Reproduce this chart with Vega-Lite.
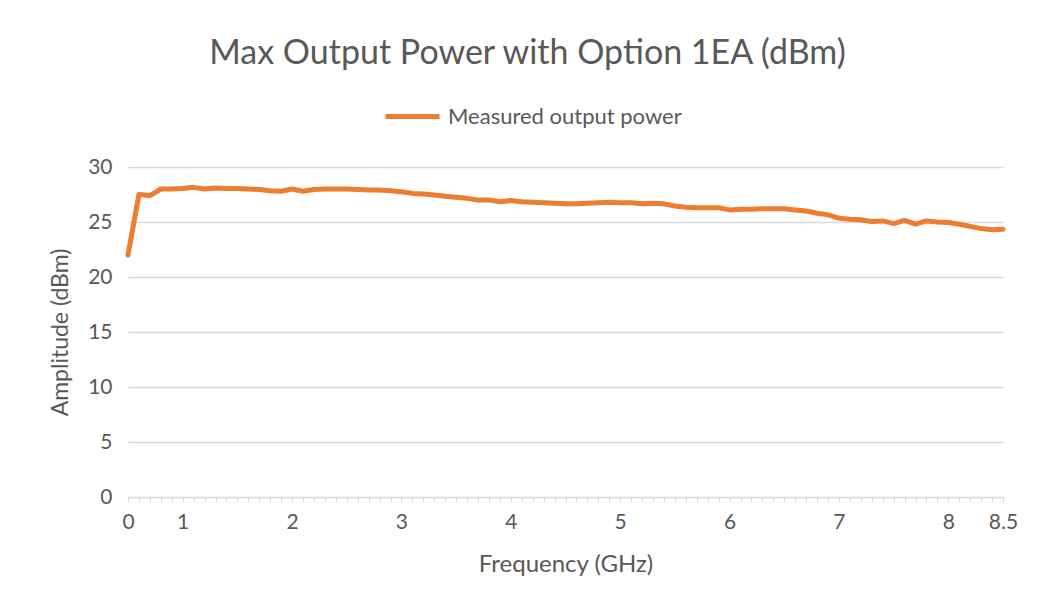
{
  "$schema": "https://vega.github.io/schema/vega-lite/v6.json",
  "autosize": "none",
  "width": 875,
  "height": 330,
  "padding": {"left": 128, "top": 167, "right": 37, "bottom": 108},
  "background": "white",
  "config": {
    "font": "Lato",
    "view": {"stroke": null},
    "axis": {"labelColor": "#595959", "titleColor": "#595959", "labelFont": "Lato", "titleFont": "Lato", "titleFontWeight": "normal"}
  },
  "title": {
    "text": "Max Output Power with Option 1EA (dBm)",
    "fontSize": 34,
    "fontWeight": "normal",
    "color": "#595959",
    "anchor": "middle",
    "dx": -38,
    "offset": 16
  },
  "data": {
    "values": [
      {"f": "0", "dBm": 22.0},
      {"f": "0.6", "dBm": 27.5},
      {"f": "0.7", "dBm": 27.4},
      {"f": "0.8", "dBm": 28.0},
      {"f": "0.9", "dBm": 28.0},
      {"f": "1", "dBm": 28.05},
      {"f": "1.1", "dBm": 28.15},
      {"f": "1.2", "dBm": 28.0},
      {"f": "1.3", "dBm": 28.1},
      {"f": "1.4", "dBm": 28.05},
      {"f": "1.5", "dBm": 28.05},
      {"f": "1.6", "dBm": 28.0},
      {"f": "1.7", "dBm": 27.95},
      {"f": "1.8", "dBm": 27.85},
      {"f": "1.9", "dBm": 27.8},
      {"f": "2", "dBm": 28.0},
      {"f": "2.1", "dBm": 27.8},
      {"f": "2.2", "dBm": 27.95},
      {"f": "2.3", "dBm": 28.0},
      {"f": "2.4", "dBm": 28.0},
      {"f": "2.5", "dBm": 28.0},
      {"f": "2.6", "dBm": 27.95},
      {"f": "2.7", "dBm": 27.9},
      {"f": "2.8", "dBm": 27.9},
      {"f": "2.9", "dBm": 27.85},
      {"f": "3", "dBm": 27.75},
      {"f": "3.1", "dBm": 27.6},
      {"f": "3.2", "dBm": 27.55},
      {"f": "3.3", "dBm": 27.45},
      {"f": "3.4", "dBm": 27.35},
      {"f": "3.5", "dBm": 27.25},
      {"f": "3.6", "dBm": 27.15},
      {"f": "3.7", "dBm": 27.0},
      {"f": "3.8", "dBm": 27.0},
      {"f": "3.9", "dBm": 26.85},
      {"f": "4", "dBm": 26.95},
      {"f": "4.1", "dBm": 26.85},
      {"f": "4.2", "dBm": 26.8},
      {"f": "4.3", "dBm": 26.75},
      {"f": "4.4", "dBm": 26.7},
      {"f": "4.5", "dBm": 26.65},
      {"f": "4.6", "dBm": 26.65},
      {"f": "4.7", "dBm": 26.7},
      {"f": "4.8", "dBm": 26.75},
      {"f": "4.9", "dBm": 26.8},
      {"f": "5", "dBm": 26.75},
      {"f": "5.1", "dBm": 26.75},
      {"f": "5.2", "dBm": 26.65},
      {"f": "5.3", "dBm": 26.7},
      {"f": "5.4", "dBm": 26.65},
      {"f": "5.5", "dBm": 26.45},
      {"f": "5.6", "dBm": 26.35},
      {"f": "5.7", "dBm": 26.3},
      {"f": "5.8", "dBm": 26.3},
      {"f": "5.9", "dBm": 26.3},
      {"f": "6", "dBm": 26.1},
      {"f": "6.1", "dBm": 26.15},
      {"f": "6.2", "dBm": 26.15},
      {"f": "6.3", "dBm": 26.2},
      {"f": "6.4", "dBm": 26.2},
      {"f": "6.5", "dBm": 26.2},
      {"f": "6.6", "dBm": 26.1},
      {"f": "6.7", "dBm": 26.0},
      {"f": "6.8", "dBm": 25.8},
      {"f": "6.9", "dBm": 25.65},
      {"f": "7", "dBm": 25.35},
      {"f": "7.1", "dBm": 25.25},
      {"f": "7.2", "dBm": 25.2},
      {"f": "7.3", "dBm": 25.05},
      {"f": "7.4", "dBm": 25.1},
      {"f": "7.5", "dBm": 24.85},
      {"f": "7.6", "dBm": 25.15},
      {"f": "7.7", "dBm": 24.8},
      {"f": "7.8", "dBm": 25.1},
      {"f": "7.9", "dBm": 25.0},
      {"f": "8", "dBm": 24.95},
      {"f": "8.1", "dBm": 24.8},
      {"f": "8.2", "dBm": 24.6},
      {"f": "8.3", "dBm": 24.4},
      {"f": "8.4", "dBm": 24.3},
      {"f": "8.5", "dBm": 24.35}
    ]
  },
  "mark": {"type": "line", "strokeWidth": 5, "strokeCap": "round", "strokeJoin": "round"},
  "encoding": {
    "x": {
      "field": "f",
      "type": "ordinal",
      "sort": null,
      "scale": {"type": "point", "padding": 0},
      "axis": {
        "title": "Frequency (GHz)",
        "titleFontSize": 24,
        "titlePadding": 20,
        "labelFontSize": 21,
        "labelAngle": 0,
        "labelPadding": 9,
        "labelOverlap": false,
        "labelExpr": "indexof(['0','1','2','3','4','5','6','7','8','8.5'], datum.value) >= 0 ? datum.label : ''",
        "domainColor": "#d9d9d9",
        "domainWidth": 1,
        "tickColor": "#d9d9d9",
        "tickSize": 5,
        "grid": false
      }
    },
    "y": {
      "field": "dBm",
      "type": "quantitative",
      "scale": {"domain": [0, 30], "nice": false, "zero": true},
      "axis": {
        "title": "Amplitude (dBm)",
        "titleFontSize": 23,
        "titlePadding": 15,
        "labelFontSize": 21,
        "labelPadding": 16,
        "values": [0, 5, 10, 15, 20, 25, 30],
        "domain": false,
        "ticks": false,
        "gridColor": "#d9d9d9",
        "gridWidth": 1.5
      }
    },
    "color": {
      "datum": "Measured output power",
      "scale": {"range": ["#ED7D31"]},
      "legend": {
        "title": null,
        "orient": "none",
        "legendX": 255,
        "legendY": -80,
        "symbolType": "stroke",
        "symbolSize": 2916,
        "symbolStrokeWidth": 5,
        "labelFontSize": 22,
        "labelLimit": 500,
        "labelColor": "#595959",
        "labelFont": "Lato",
        "labelOffset": 6
      }
    }
  }
}
